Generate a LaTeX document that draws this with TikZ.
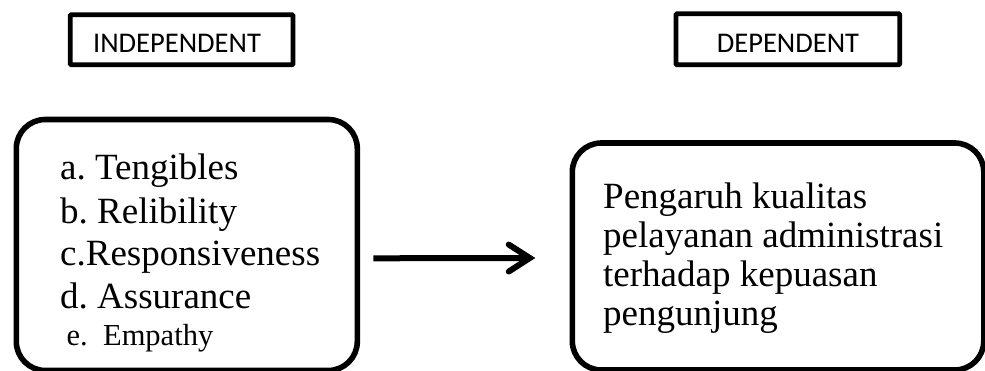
\documentclass[tikz,border=0pt]{standalone}
\usepackage{fontspec}
\setmainfont{Liberation Serif}
\newfontfamily\labelfont{Carlito}
\usetikzlibrary{arrows.meta}
\tikzset{
  headbox/.style={draw=black, line width=4.8pt, rectangle, rounded corners=1pt, outer sep=0pt, inner sep=0pt},
  headtext/.style={anchor=base, inner sep=0pt, font=\labelfont\fontsize{28.5}{30}\selectfont},
  roundbox/.style={draw=black, line width=5.6pt, rectangle, rounded corners=29pt, outer sep=0pt, inner sep=0pt},
  itemtext/.style={anchor=base west, inner sep=0pt, font=\fontsize{37}{40}\selectfont},
  smalltext/.style={anchor=base west, inner sep=0pt, font=\fontsize{30.5}{33}\selectfont},
  linkarrow/.style={line width=6pt, -{Straight Barb[length=21pt, width=27pt, line width=6pt, line cap=round]}}
}
\begin{document}
\begin{tikzpicture}[x=1pt, y=-1pt]
  \path[use as bounding box, clip] (0,0) rectangle (985,371);
  % header boxes
  \node[headbox, minimum width=222.7pt, minimum height=50pt] (ind) at (181.6,39.7) {};
  \node[headtext] (indtext) at (177,53) {INDEPENDENT};
  \node[headbox, minimum width=223.7pt, minimum height=51pt] (dep) at (787.9,39.2) {};
  \node[headtext] (deptext) at (788,53) {DEPENDENT};
  % main boxes
  \node[roundbox, anchor=north west, minimum width=341pt, minimum height=251pt] (lbox) at (16.3,119.5) {};
  \node[roundbox, anchor=north west, minimum width=411.5pt, minimum height=227pt] (rbox) at (572.3,143) {};
  % left list
  \node[itemtext] (ia) at (60,180) {a.~Tengibles};
  \node[itemtext] (ib) at (60,223.3) {b.~Relibility};
  \node[itemtext] (ic) at (60,265.5) {c.Responsiveness};
  \node[itemtext] (id) at (60,308.3) {d.~Assurance};
  \node[smalltext] (ie) at (66.5,345) {e.\ \ Empathy};
  % right text
  \node[itemtext] (r1) at (603,208.5) {Pengaruh kualitas};
  \node[itemtext] (r2) at (603,248) {pelayanan administrasi};
  \node[itemtext] (r3) at (603,287) {terhadap kepuasan};
  \node[itemtext] (r4) at (603,325) {pengunjung};
  % arrow
  \draw[linkarrow] ([xshift=16pt, yshift=-13.3pt]lbox.east) -- ([xshift=-37pt, yshift=-1.5pt]rbox.west);
\end{tikzpicture}
\end{document}
